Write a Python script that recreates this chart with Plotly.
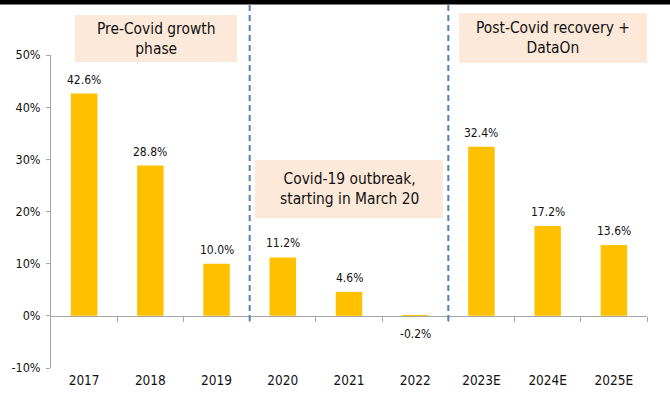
import plotly.graph_objects as go

years = ["2017", "2018", "2019", "2020", "2021", "2022", "2023E", "2024E", "2025E"]
growth = [42.6, 28.8, 10.0, 11.2, 4.6, -0.2, 32.4, 17.2, 13.6]
labels = ["42.6%", "28.8%", "10.0%", "11.2%", "4.6%", "-0.2%", "32.4%", "17.2%", "13.6%"]
y_ticks = [-10, 0, 10, 20, 30, 40, 50]
y_tick_text = ["-10%", "0%", "10%", "20%", "30%", "40%", "50%"]
phase_texts = ["Pre-Covid growth<br>phase", "Covid-19 outbreak,<br>starting in March 20",
               "Post-Covid recovery +<br>DataOn"]
phase_breaks = [2.5, 5.5]

W, H = 670, 400
L, R, T, B = 51, 23, 55, 32
PW, PH = W - L - R, H - T - B

def px(x):
    return (x - L) / PW

def py(y):
    return (H - B - y) / PH

FONT = "DejaVu Sans Condensed, Liberation Sans, Arial, sans-serif"
TXT = "#111111"
GRAY = "#a6a6a6"

idx = list(range(len(years)))
fig = go.Figure()
fig.add_trace(go.Bar(x=idx, y=growth, marker=dict(color="#FFC000", line=dict(width=0)),
                     width=0.4, hoverinfo="skip"))
# invisible helper trace so the zero-line tick axis is drawn
fig.add_trace(go.Scatter(x=[idx[0] - 0.5, idx[-1] + 0.5], y=[0, 0], xaxis="x2",
                         mode="lines", line=dict(width=0), opacity=0, hoverinfo="skip",
                         showlegend=False))

annotations = []
for i, (v, t) in enumerate(zip(growth, labels)):
    annotations.append(dict(x=i, y=v, xref="x", yref="y", text=t, showarrow=False,
                            yanchor="middle", yshift=14 if v >= 0 else -17,
                            font=dict(family=FONT, size=12, color=TXT)))

boxes = [
    (75, 237, 15, 62),
    (255, 443, 160, 218),
    (459, 647, 13, 63),
]
shapes = []
for (x0, x1, y0, y1), txt in zip(boxes, phase_texts):
    shapes.append(dict(type="rect", xref="paper", yref="paper", x0=px(x0), x1=px(x1),
                       y0=py(y1), y1=py(y0), fillcolor="#FDE9D9", line=dict(width=0),
                       layer="below"))
    annotations.append(dict(x=(px(x0) + px(x1)) / 2, y=(py(y0) + py(y1)) / 2,
                            xref="paper", yref="paper", text=txt, showarrow=False,
                            xanchor="center", yanchor="middle",
                            font=dict(family=FONT, size=15.4, color=TXT)))

for b in phase_breaks:
    shapes.append(dict(type="line", xref="x", yref="paper", x0=b, x1=b,
                       y0=py(321), y1=py(5), line=dict(color="#4F81BD", width=2, dash="6px,4px")))

# black strip at the top
shapes.append(dict(type="rect", xref="paper", yref="paper", x0=px(0), x1=px(W),
                   y0=py(4.5), y1=py(-2), fillcolor="black", line=dict(width=0)))

fig.update_layout(
    width=W, height=H,
    margin=dict(l=L, r=R, t=T, b=B),
    paper_bgcolor="white", plot_bgcolor="white",
    showlegend=False,
    bargap=0.6,
    xaxis=dict(range=[-0.5, len(years) - 0.5], tickvals=idx, ticktext=years,
               showline=False, showgrid=False, zeroline=False, ticks="",
               ticklabelstandoff=2,
               tickfont=dict(family=FONT, size=13.5, color=TXT), fixedrange=True),
    xaxis2=dict(overlaying="x", anchor="free", position=(0 - y_ticks[0]) / (y_ticks[-1] - y_ticks[0]),
                range=[-0.5, len(years) - 0.5],
                tickvals=[i + 0.5 for i in idx], ticks="outside", ticklen=5, tickcolor=GRAY,
                tickwidth=1, showticklabels=False, showline=True, linecolor=GRAY, linewidth=1,
                showgrid=False, zeroline=False, side="bottom"),
    yaxis=dict(range=[y_ticks[0], y_ticks[-1]], tickvals=y_ticks, ticktext=y_tick_text,
               showline=True, linecolor=GRAY, linewidth=1, ticks="outside", ticklen=4,
               tickcolor=GRAY, showgrid=False, zeroline=False, ticklabelstandoff=3,
               tickfont=dict(family=FONT, size=12.5, color=TXT)),
    shapes=shapes,
    annotations=annotations,
)

fig.write_html("out.html")
